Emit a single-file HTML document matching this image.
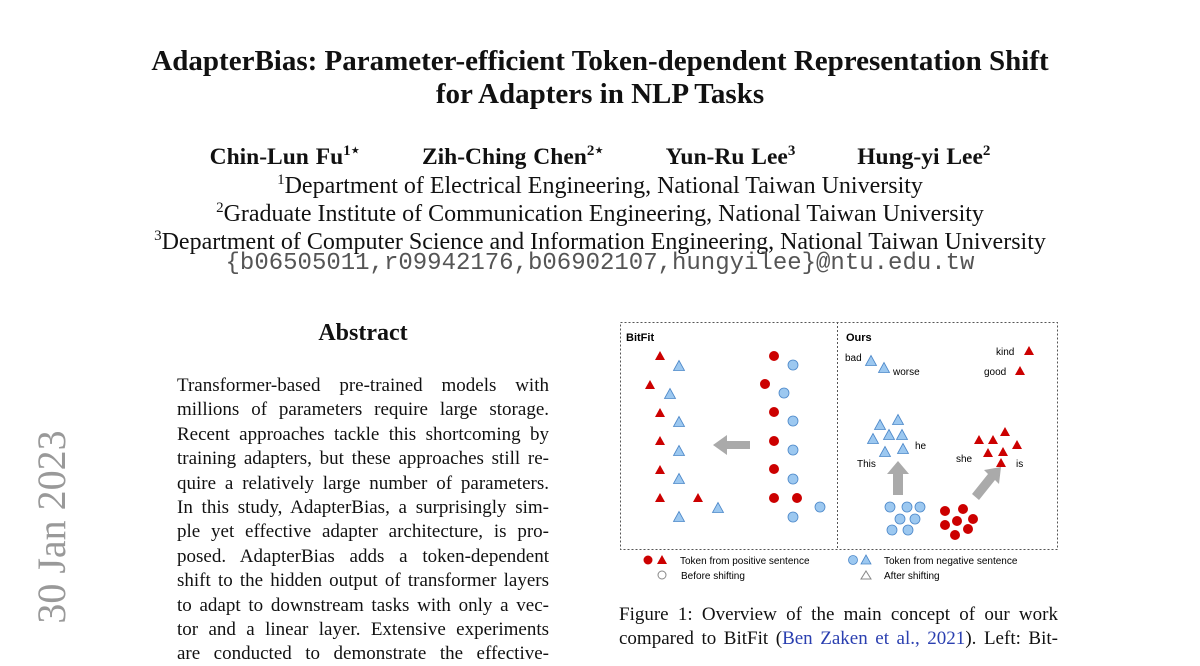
<!DOCTYPE html>
<html><head><meta charset="utf-8"><style>
body{margin:0;width:1200px;height:648px;overflow:hidden;background:#fff;font-family:"Liberation Serif",serif;color:#111;position:relative}
.c{position:absolute;left:0;width:1200px;text-align:center;white-space:nowrap}
.t{font-weight:bold;font-size:29px;line-height:33px}
.a{font-size:24px;line-height:28px}
.l{position:absolute;left:177px;width:372px;font-size:19px;text-align:justify;text-align-last:justify;white-space:nowrap;height:24px;line-height:24px}
.cap{position:absolute;left:619px;width:439px;font-size:19px;line-height:24px;text-align:justify;text-align-last:justify;white-space:nowrap}
sup{font-size:15px}
svg text{font-family:"Liberation Sans",sans-serif}
</style></head><body>
<div class="c t" style="top:45px">AdapterBias: Parameter-efficient Token-dependent Representation Shift</div>
<div class="c t" style="top:78px">for Adapters in NLP Tasks</div>
<div class="c a" style="top:137px;font-weight:bold;font-size:23.5px;word-spacing:1px">Chin-Lun Fu<sup>1⋆</sup>&nbsp;&nbsp;&nbsp;&nbsp;&nbsp;&nbsp;&nbsp;&nbsp;&nbsp;Zih-Ching Chen<sup>2⋆</sup>&nbsp;&nbsp;&nbsp;&nbsp;&nbsp;&nbsp;&nbsp;&nbsp;&nbsp;Yun-Ru Lee<sup>3</sup>&nbsp;&nbsp;&nbsp;&nbsp;&nbsp;&nbsp;&nbsp;&nbsp;&nbsp;Hung-yi Lee<sup>2</sup></div>
<div class="c a" style="top:166px"><sup>1</sup>Department of Electrical Engineering, National Taiwan University</div>
<div class="c a" style="top:194px"><sup>2</sup>Graduate Institute of Communication Engineering, National Taiwan University</div>
<div class="c a" style="top:222px"><sup>3</sup>Department of Computer Science and Information Engineering, National Taiwan University</div>
<div class="c" style="top:250px;font-family:'Liberation Mono',monospace;font-size:24px;line-height:28px;color:#555">{b06505011,r09942176,b06902107,hungyilee}@ntu.edu.tw</div>
<div style="position:absolute;left:0;width:726px;top:320px;text-align:center;font-weight:bold;font-size:24px">Abstract</div>
<div class="l" style="top:374px">Transformer-based pre-trained models with</div>
<div class="l" style="top:398px">millions of parameters require large storage.</div>
<div class="l" style="top:423px">Recent approaches tackle this shortcoming by</div>
<div class="l" style="top:447px">training adapters, but these approaches still re-</div>
<div class="l" style="top:472px">quire a relatively large number of parameters.</div>
<div class="l" style="top:496px">In this study, AdapterBias, a surprisingly sim-</div>
<div class="l" style="top:520px">ple yet effective adapter architecture, is pro-</div>
<div class="l" style="top:545px">posed. AdapterBias adds a token-dependent</div>
<div class="l" style="top:569px">shift to the hidden output of transformer layers</div>
<div class="l" style="top:594px">to adapt to downstream tasks with only a vec-</div>
<div class="l" style="top:618px">tor and a linear layer. Extensive experiments</div>
<div class="l" style="top:642px">are conducted to demonstrate the effective-</div>
<div style="position:absolute;left:-48px;top:507px;width:200px;height:40px;transform:rotate(-90deg);font-size:40px;color:#999;line-height:40px;white-space:nowrap;text-align:center">30 Jan 2023</div>
<svg style="position:absolute;left:0;top:0" width="1200" height="648">
<rect x="620.5" y="322.5" width="437" height="227" fill="none" stroke="#555" stroke-dasharray="2,2"/>
<line x1="837.5" y1="322" x2="837.5" y2="550" stroke="#555" stroke-dasharray="2,2"/>
<text x="626" y="341" font-size="11" font-weight="bold">BitFit</text>
<text x="846" y="341" font-size="11" font-weight="bold">Ours</text>
<defs>
<path id="rt" d="M0,-5L5,4L-5,4Z" fill="#c00" />
<path id="bt" d="M0,-5.5L5.5,4.5L-5.5,4.5Z" fill="#9cc8f0" stroke="#4a86c8" stroke-width="0.8"/>
<circle id="rc" r="5" fill="#c00"/>
<circle id="bc" r="5" fill="#9cc8f0" stroke="#4a86c8" stroke-width="0.8"/>
</defs>
<g>
<use href="#rt" x="660" y="356"/><use href="#rt" x="650" y="385"/><use href="#rt" x="660" y="413"/><use href="#rt" x="660" y="441"/><use href="#rt" x="660" y="470"/><use href="#rt" x="660" y="498"/><use href="#rt" x="698" y="498"/>
<use href="#bt" x="679" y="366"/><use href="#bt" x="670" y="394"/><use href="#bt" x="679" y="422"/><use href="#bt" x="679" y="451"/><use href="#bt" x="679" y="479"/><use href="#bt" x="679" y="517"/><use href="#bt" x="718" y="508"/>
<use href="#rc" x="774" y="356"/><use href="#rc" x="765" y="384"/><use href="#rc" x="774" y="412"/><use href="#rc" x="774" y="441"/><use href="#rc" x="774" y="469"/><use href="#rc" x="774" y="498"/><use href="#rc" x="797" y="498"/>
<use href="#bc" x="793" y="365"/><use href="#bc" x="784" y="393"/><use href="#bc" x="793" y="421"/><use href="#bc" x="793" y="450"/><use href="#bc" x="793" y="479"/><use href="#bc" x="793" y="517"/><use href="#bc" x="820" y="507"/>
<path d="M713,445L727,435L727,441L750,441L750,449L727,449L727,455Z" fill="#aaa"/>
<text x="845" y="361" font-size="10">bad</text><use href="#bt" x="871" y="361"/><use href="#bt" x="884" y="368"/><text x="893" y="375" font-size="10">worse</text>
<text x="996" y="355" font-size="10">kind</text><use href="#rt" x="1029" y="351"/>
<text x="984" y="375" font-size="10">good</text><use href="#rt" x="1020" y="371"/>
<use href="#bt" x="880" y="425"/><use href="#bt" x="898" y="420"/><use href="#bt" x="873" y="439"/><use href="#bt" x="889" y="435"/><use href="#bt" x="902" y="435"/><use href="#bt" x="885" y="452"/><use href="#bt" x="903" y="449"/>
<text x="915" y="449" font-size="10">he</text><text x="857" y="467" font-size="10">This</text>
<path d="M898,461L909,474L903,474L903,495L893,495L893,474L887,474Z" fill="#aaa"/>
<use href="#bc" x="890" y="507"/><use href="#bc" x="907" y="507"/><use href="#bc" x="920" y="507"/><use href="#bc" x="900" y="519"/><use href="#bc" x="915" y="519"/><use href="#bc" x="892" y="530"/><use href="#bc" x="908" y="530"/>
<use href="#rt" x="979" y="440"/><use href="#rt" x="993" y="440"/><use href="#rt" x="1005" y="432"/><use href="#rt" x="1017" y="445"/><use href="#rt" x="988" y="453"/><use href="#rt" x="1003" y="452"/><use href="#rt" x="1001" y="463"/>
<text x="956" y="462" font-size="10">she</text><text x="1016" y="467" font-size="10">is</text>
<path d="M1001,467L999,484L995,480L979,500L972,494L988,474L984,470Z" fill="#aaa"/>
<use href="#rc" x="945" y="511"/><use href="#rc" x="963" y="509"/><use href="#rc" x="957" y="521"/><use href="#rc" x="973" y="519"/><use href="#rc" x="945" y="525"/><use href="#rc" x="968" y="529"/><use href="#rc" x="955" y="535"/>
<circle cx="648" cy="560" r="4.5" fill="#c00"/><path d="M662,555L667,564L657,564Z" fill="#c00"/>
<text x="680" y="564" font-size="10">Token from positive sentence</text>
<circle cx="662" cy="575" r="4" fill="none" stroke="#888"/><text x="681" y="579" font-size="10">Before shifting</text>
<circle cx="853" cy="560" r="4.5" fill="#9cc8f0" stroke="#4a86c8" stroke-width="0.8"/><path d="M866,555L871,564L861,564Z" fill="#9cc8f0" stroke="#4a86c8" stroke-width="0.8"/>
<text x="884" y="564" font-size="10">Token from negative sentence</text>
<path d="M866,571L871,579L861,579Z" fill="none" stroke="#888"/><text x="884" y="579" font-size="10">After shifting</text>
</g>
</svg>
<div class="cap" style="top:603px">Figure 1: Overview of the main concept of our work</div>
<div class="cap" style="top:627px">compared to BitFit (<span style="color:#2a3fb0">Ben Zaken et al., 2021</span>). Left: Bit-</div>
</body></html>
